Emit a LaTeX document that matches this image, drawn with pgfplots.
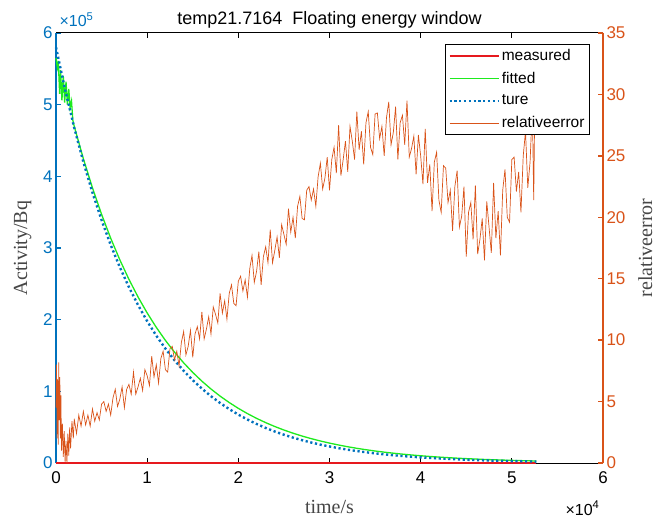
\documentclass[border=0pt]{standalone}
\usepackage{pgfplots}
\pgfplotsset{compat=1.18}
\usepackage{fontspec}
\setmainfont{Liberation Sans}
\newfontfamily\seriffont{Liberation Serif}
\definecolor{mblue}{RGB}{0,114,189}
\definecolor{morange}{RGB}{217,83,25}
\definecolor{mgreen}{RGB}{30,235,30}
\definecolor{mred}{RGB}{230,25,30}
\definecolor{lblgray}{RGB}{70,70,70}
\begin{document}
\begin{tikzpicture}
\pgfplotsset{
  common/.style={scale only axis, width=547pt, height=430pt, xmin=0, xmax=60000,
    tick align=inside, major tick length=5pt, clip=false, scaled ticks=false,
    tick label style={font=\fontsize{17}{20}\selectfont},
  },
  measuredst/.style={mred, line width=2pt},
  fittedst/.style={mgreen, line width=1.3pt},
  turest/.style={mblue, line width=2.4pt, dash pattern=on 2.2pt off 2.6pt},
  errst/.style={morange, line width=0.7pt},
}
\begin{axis}[common,
  ymin=0, ymax=600000,
  axis x line*=box, axis y line*=left,
  xtick={0,10000,20000,30000,40000,50000,60000}, xticklabels={0,1,2,3,4,5,6},
  ytick={0,100000,200000,300000,400000,500000,600000}, yticklabels={0,1,2,3,4,5,6},
  x axis line style={black, line width=1pt},
  y axis line style={mblue, line width=1.6pt},
  xtick style={black, line width=1pt},
  ytick style={mblue, line width=1.3pt},
  yticklabel style={text=mblue},
  xticklabel style={text=black, yshift=-5pt},
]
\addplot[measuredst] coordinates {(0,0) (52700,0)};
\addplot[fittedst] coordinates {
(0,565000) (150,552000) (250,561000) (400,515000) (500,548000) (650,506000) (800,540000)
(950,503000) (1100,532000) (1250,500000) (1400,522000) (1550,496000) (1700,505000)
(1850,478000) (2000,469800) (3000,424700) (4000,383900) (5000,347000)
(6000,313650) (7000,283520) (8000,256280) (9000,231660) (10000,209400) (11000,189280)
(12000,171100) (13000,154660) (14000,139800) (15000,126370) (16000,114230) (17000,103250)
(18000,93330) (19000,84370) (20000,76260) (21000,68930) (22000,62310) (23000,56320)
(24000,50910) (25000,46020) (26000,41600) (27000,37600) (28000,33990) (29000,30730)
(30000,27770) (31000,25110) (32000,22690) (33000,20510) (34000,18540) (35000,16760)
(36000,15150) (37000,13700) (38000,12380) (39000,11190) (40000,10120) (41000,9140)
(42000,8270) (43000,7470) (44000,6750) (45000,6100) (46000,5520) (47000,4990)
(48000,4510) (49000,4080) (50000,3690) (51000,3330) (52000,3010) (52700,2800)
};
\addplot[turest] coordinates {
(0,580000) (1000,520870) (2000,467770) (3000,420090) (4000,377260) (5000,338800)
(6000,304260) (7000,273250) (8000,245390) (9000,220380) (10000,197910) (11000,177740)
(12000,159620) (13000,143350) (14000,128740) (15000,115610) (16000,103830) (17000,93240)
(18000,83740) (19000,75200) (20000,67540) (21000,60650) (22000,54470) (23000,48920)
(24000,43930) (25000,39450) (26000,35430) (27000,31820) (28000,28580) (29000,25660)
(30000,23050) (31000,20700) (32000,18590) (33000,16690) (34000,14990) (35000,13460)
(36000,12090) (37000,10860) (38000,9750) (39000,8760) (40000,7860) (41000,7060)
(42000,6340) (43000,5700) (44000,5120) (45000,4590) (46000,4130) (47000,3700)
(48000,3330) (49000,2990) (50000,2680) (51000,2410) (52000,2160) (52700,2000)
};
\coordinate (bl) at (rel axis cs:0,0);
\coordinate (tr) at (rel axis cs:1,1);
\node[font=\fontsize{18}{21}\selectfont, anchor=base] at ([yshift=8pt]axis description cs:0.5,1) {temp21.7164\ \ Floating energy window};
\node[font=\fontsize{16}{19}\selectfont, text=mblue, anchor=base west] at ([yshift=6pt]axis description cs:0,1) {×10\textsuperscript{5}};
\node[font=\fontsize{16}{19}\selectfont, text=black, anchor=base east] at ([yshift=-52pt]axis description cs:1,0) {×10\textsuperscript{4}};
\node[font=\seriffont\fontsize{20}{24}\selectfont, text=lblgray, anchor=north] at (axis description cs:0.5,-0.079) {time/s};
\node[font=\seriffont\fontsize{20}{24}\selectfont, text=lblgray, anchor=south, rotate=90] at (axis description cs:-0.0384,0.5) {Activity/Bq};
\end{axis}
\begin{axis}[common,
  ymin=0, ymax=35,
  axis x line=none, axis y line*=right,
  ytick={0,5,10,15,20,25,30,35}, yticklabels={0,5,10,15,20,25,30,35},
  y axis line style={morange, line width=1.6pt},
  ytick style={morange, line width=1.3pt},
  yticklabel style={text=morange},
  legend style={at={(axis description cs:0.9762,0.9744)}, anchor=north east, draw=black, line width=1pt, fill=white,
    font=\fontsize{15.5}{18}\selectfont, inner xsep=3pt, inner ysep=3pt, row sep=6pt},
  legend cell align=left,
  legend image code/.code={\draw[#1] (0pt,0pt) -- (49pt,0pt);},
]
\addlegendimage{measuredst}
\addlegendimage{fittedst}
\addlegendimage{turest}
\addplot[errst] coordinates {
(0,4.5) (60,8.0) (120,2.0) (180,6.8) (240,1.5) (300,8.2) (360,3.5) (420,7.0) (480,2.0)
(540,5.5) (600,1.0) (700,3.2) (800,0.5) (900,2.6) (1000,0.1) (1100,1.8) (1200,0.0)
(1300,2.4) (1400,0.6) (1500,2.9) (1600,1.2) (1750,3.4) (1900,2.0) (2000,3.6) (2250,2.4)
(2500,3.9) (2750,3.0) (3000,4.2) (3250,3.1) (3500,3.9) (3750,3.0) (4000,4.4) (4250,3.4)
(4500,4.1) (4750,3.5) (5000,4.8)
(5250,5.0) (5500,4.2) (5750,4.8) (6000,3.9) (6250,5.3) (6500,6.0) (6750,4.6) (7000,5.2)
(7250,6.2) (7500,4.5) (7750,6.0) (8000,6.4) (8250,5.6) (8500,7.4) (8750,5.6) (9000,6.2)
(9250,6.9) (9500,5.9) (9750,7.6) (10000,7.1) (10250,6.3) (10500,8.7) (10750,7.0) (11000,8.0)
(11250,6.5) (11500,8.5) (11750,9.1) (12000,7.6) (12250,7.4) (12500,9.3) (12750,9.5) (13000,8.4)
(13250,9.1) (13500,7.9) (13750,9.8) (14000,10.7) (14250,8.8) (14500,9.5) (14750,10.8) (15000,8.6)
(15250,10.5) (15500,11.1) (15750,10.1) (16000,12.3) (16250,10.1) (16500,10.9) (16750,11.9) (17000,10.5)
(17250,12.7) (17500,12.1) (17750,11.4) (18000,13.8) (18250,12.2) (18500,13.2) (18750,11.7) (19000,13.8)
(19250,14.5) (19500,13.0) (19750,12.8) (20000,14.8) (20250,15.2) (20500,14.0) (20750,14.9) (21000,13.5)
(21250,15.8) (21500,16.9) (21750,14.7) (22000,15.6) (22250,17.2) (22500,14.5) (22750,16.8) (23000,17.6)
(23250,16.3) (23500,19.0) (23750,16.3) (24000,17.3) (24250,18.4) (24500,16.7) (24750,19.4) (25000,18.6)
(25250,17.8) (25500,20.7) (25750,18.8) (26000,20.0) (26250,18.3) (26500,20.9) (26750,21.7) (27000,19.9)
(27250,19.8) (27500,22.2) (27750,22.5) (28000,21.4) (28250,22.3) (28500,20.9) (28750,23.3) (29000,24.4)
(29250,22.3) (29500,23.2) (29750,24.9) (30000,22.2) (30250,24.7) (30500,25.7) (30750,23.6) (31000,27.5)
(31250,23.4) (31500,24.7) (31750,26.2) (32000,23.7) (32250,27.4) (32500,26.2) (32750,24.7) (33000,28.6)
(33250,25.5) (33500,27.0) (33750,24.3) (34000,27.7) (34250,28.6) (34500,25.7) (34750,25.1) (35000,28.4)
(35250,28.5) (35500,26.4) (35750,27.4) (36000,25.0) (36250,28.1) (36500,29.4) (36750,25.9) (37000,26.9)
(37250,29.0) (37500,24.7) (37750,27.7) (38000,28.3) (38250,25.9) (38500,29.5) (38750,24.9) (39000,25.6)
(39250,26.6) (39500,23.5) (39750,26.7) (40000,25.0) (40250,22.7) (40500,27.2) (40750,22.8) (41000,24.3)
(41250,20.5) (41500,24.5) (41750,25.3) (42000,21.4) (42250,20.4) (42500,24.2) (42750,24.0) (43000,21.2)
(43250,22.2) (43500,18.9) (43750,22.5) (44000,23.8) (44250,19.2) (44500,20.1) (44750,22.5) (45000,16.8)
(45250,20.4) (45500,21.2) (45750,18.2) (46000,22.6) (46250,17.0) (46500,18.2) (46750,19.9) (47000,16.5)
(47250,21.3) (47500,19.2) (47750,17.1) (48000,22.8) (48250,18.3) (48500,20.5) (48750,16.9) (49000,22.2)
(49250,23.9) (49500,20.0) (49750,19.6) (50000,24.7) (50250,24.9) (50500,22.1) (50750,23.7) (51000,20.4)
(51250,25.0) (51500,27.0) (51750,22.4) (52000,24.5) (52250,29.0) (52400,21.4) (52550,31.5) (52700,28.5)
};
\legend{measured,fitted,ture,relativeerror}
\node[font=\seriffont\fontsize{20}{24}\selectfont, text=lblgray, anchor=north, rotate=90] at (axis description cs:1.058,0.5) {relativeerror};
\end{axis}
\pgfresetboundingbox
\path ([shift={(-56pt,-56pt)}]bl) rectangle ([shift={(55pt,33pt)}]tr);
\end{tikzpicture}
\end{document}
